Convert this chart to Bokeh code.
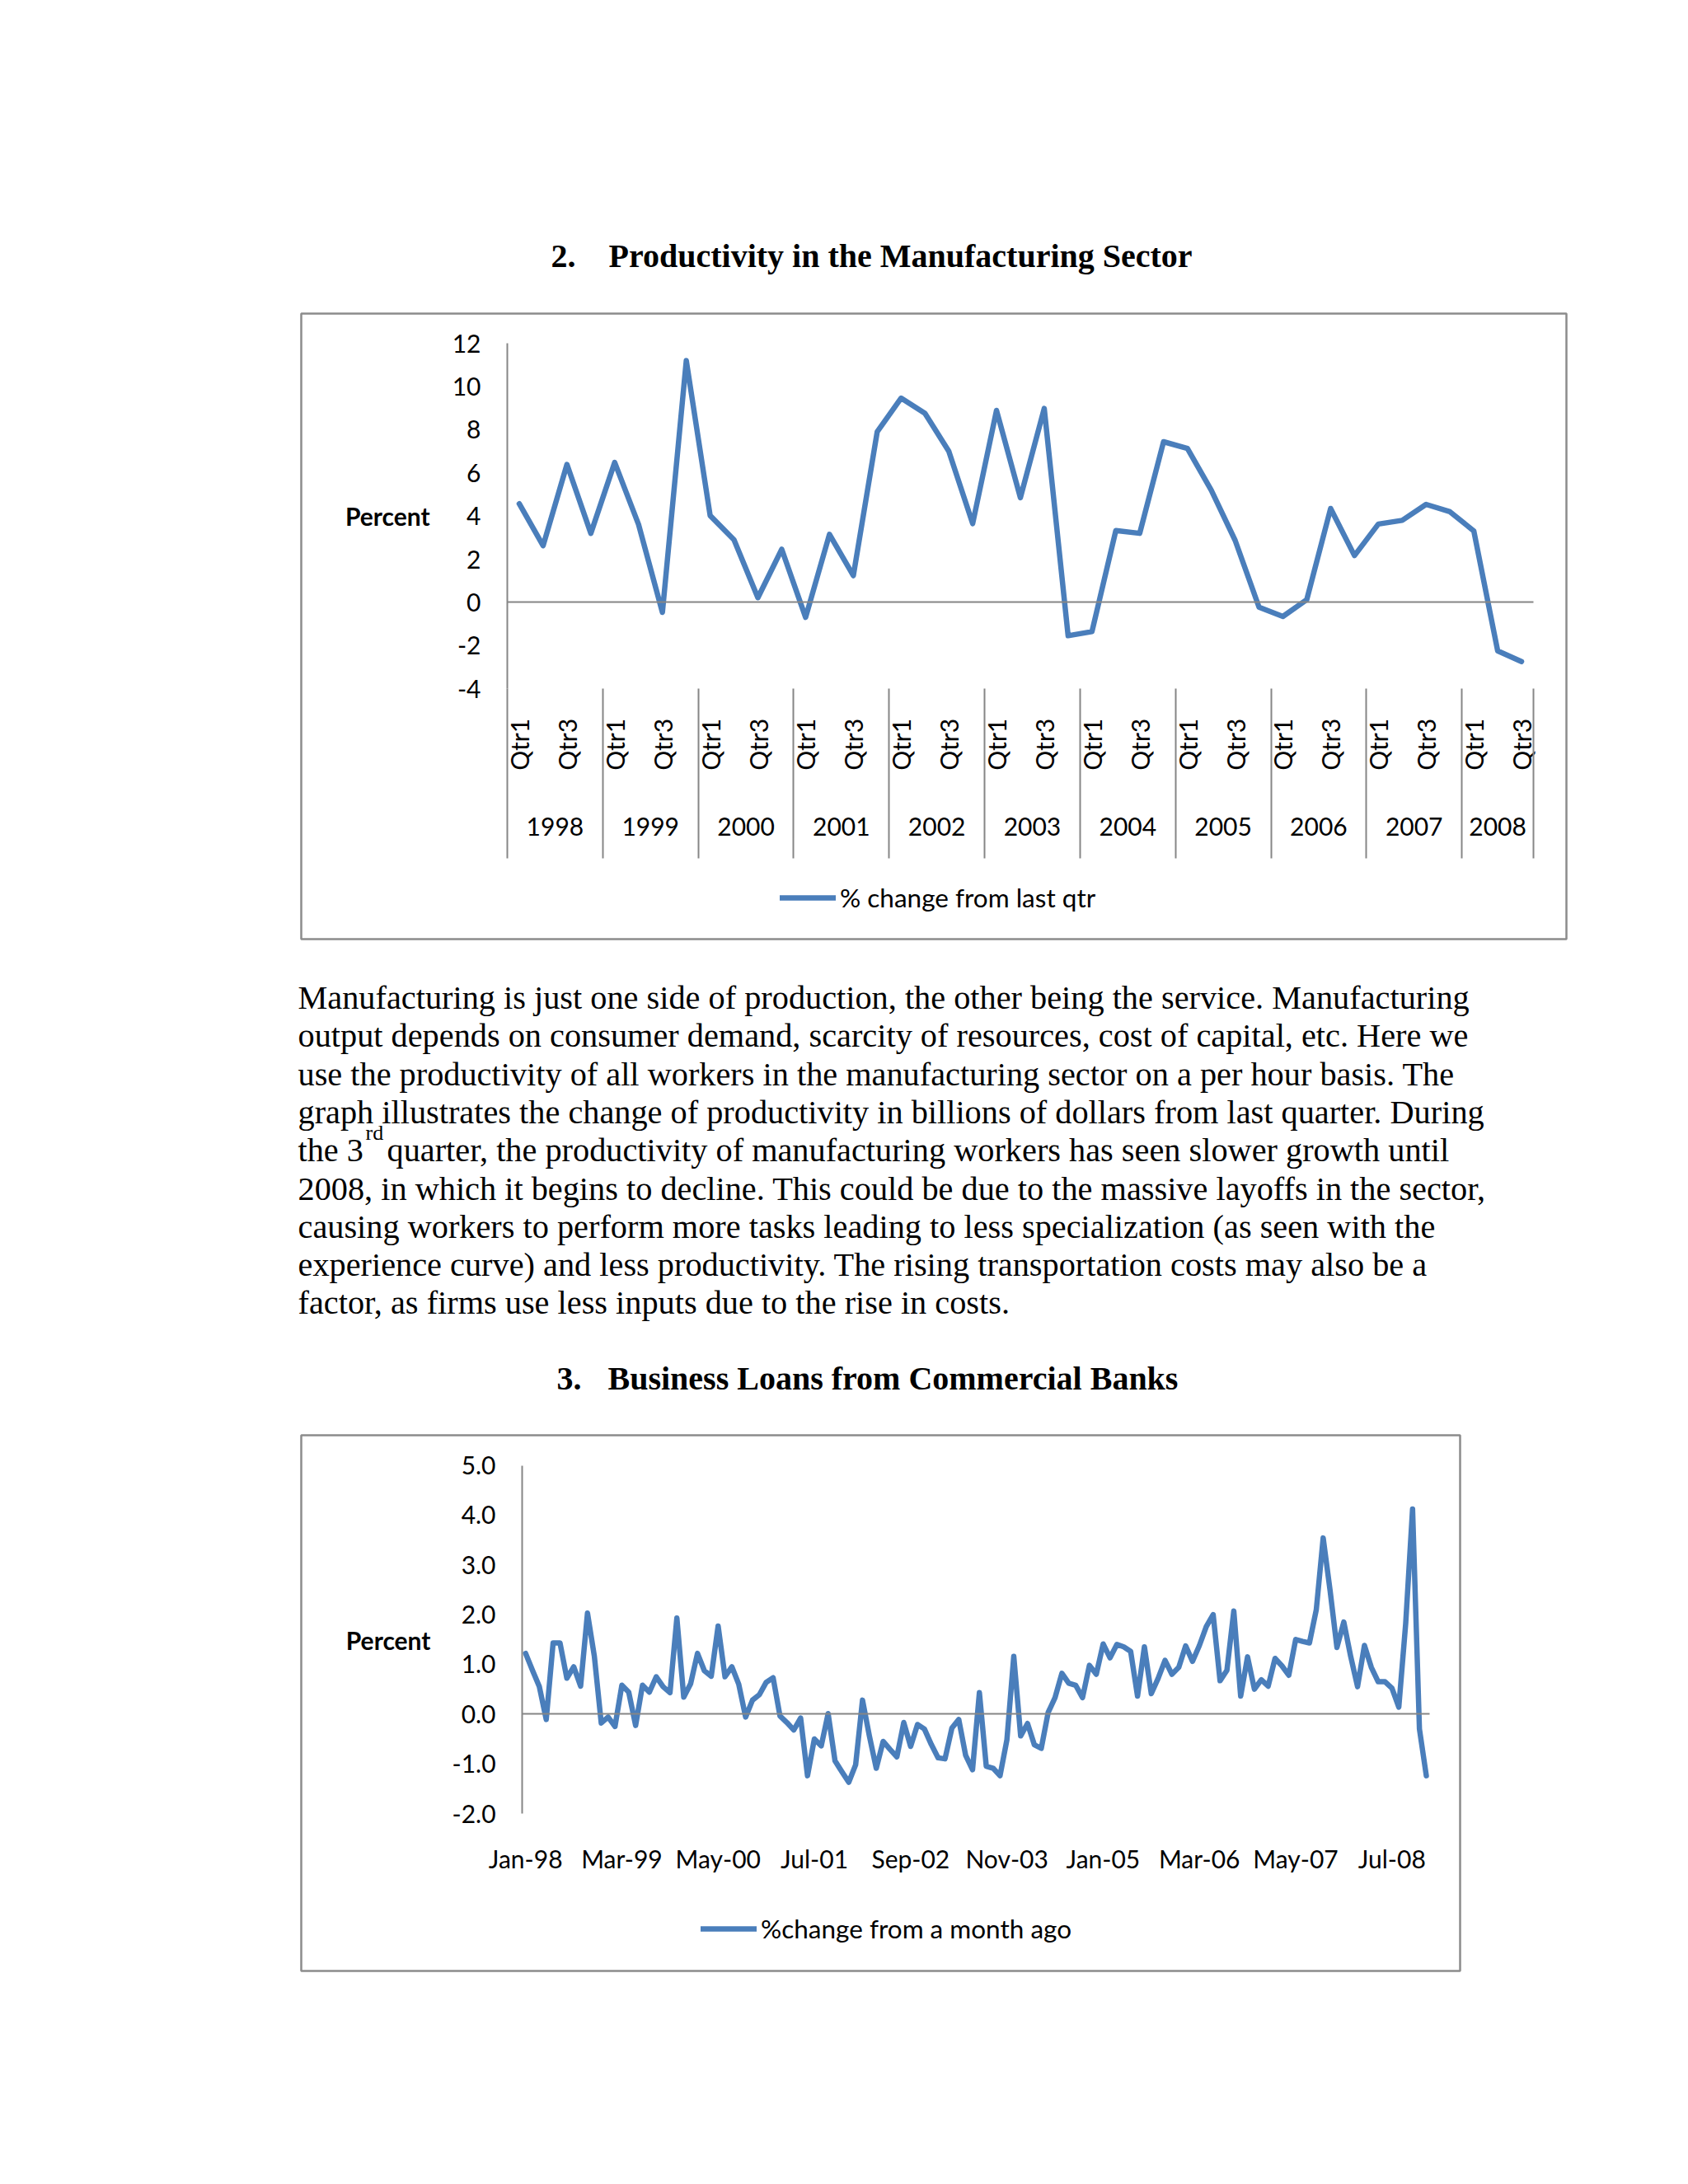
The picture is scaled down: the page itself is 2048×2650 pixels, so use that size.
import math
from bokeh.plotting import figure
from bokeh.models import (Range1d, LinearAxis, FixedTicker, PrintfTickFormatter,
                          Legend, LegendItem, ColumnDataSource)
from bokeh.layouts import column
from bokeh.core.properties import value
from bokeh.embed import file_html
from bokeh.resources import INLINE

# ---------------- data ----------------
prod_years = ["1998", "1999", "2000", "2001", "2002", "2003", "2004", "2005", "2006", "2007", "2008"]
prod_quarters = ["Qtr1", "Qtr2", "Qtr3", "Qtr4"]
productivity = [4.57, 2.63, 6.39, 3.2,
                6.48, 3.61, -0.46, 11.2,
                4.02, 2.9, 0.22, 2.46,
                -0.69, 3.15, 1.24, 7.9,
                9.46, 8.76, 7.0, 3.65,
                8.89, 4.85, 8.98, -1.54,
                -1.35, 3.33, 3.2, 7.44,
                7.13, 5.19, 2.87, -0.22,
                -0.65, 0.13, 4.35, 2.17,
                3.63, 3.8, 4.54, 4.2,
                3.31, -2.24, -2.74]
prod_yticks = [-4, -2, 0, 2, 4, 6, 8, 10, 12]
prod_label_quarters = ["Qtr1", "Qtr3"]
prod_legend = "% change from last qtr"

loan_months = ["Jan", "Feb", "Mar", "Apr", "May", "Jun", "Jul", "Aug", "Sep", "Oct", "Nov", "Dec"]
loan_years = ["98", "99", "00", "01", "02", "03", "04", "05", "06", "07", "08"]
loans = [1.22, 0.88, 0.55, -0.11, 1.43, 1.43, 0.72, 0.95, 0.56, 2.03,
         1.16, -0.18, -0.06, -0.25, 0.58, 0.44, -0.23, 0.58, 0.44, 0.75,
         0.55, 0.43, 1.93, 0.34, 0.61, 1.22, 0.87, 0.76, 1.77, 0.75,
         0.95, 0.6, -0.06, 0.28, 0.39, 0.64, 0.73, -0.04, -0.17, -0.32,
         -0.08, -1.24, -0.5, -0.64, 0.01, -0.94, -1.16, -1.37, -1.02, 0.28,
         -0.44, -1.09, -0.55, -0.71, -0.86, -0.17, -0.65, -0.21, -0.3, -0.61,
         -0.88, -0.9, -0.28, -0.11, -0.83, -1.12, 0.43, -1.05, -1.09, -1.24,
         -0.52, 1.16, -0.44, -0.19, -0.62, -0.69, 0.03, 0.33, 0.82, 0.62,
         0.58, 0.33, 0.98, 0.8, 1.41, 1.13, 1.4, 1.35, 1.26, 0.36,
         1.35, 0.41, 0.72, 1.08, 0.8, 0.94, 1.37, 1.06, 1.38, 1.76,
         2.0, 0.67, 0.88, 2.07, 0.36, 1.15, 0.5, 0.69, 0.56, 1.12,
         0.97, 0.78, 1.5, 1.46, 1.43, 2.1, 3.54, 2.49, 1.34, 1.85,
         1.16, 0.55, 1.38, 0.94, 0.65, 0.65, 0.52, 0.14, 1.82, 4.12,
         -0.3, -1.24]
loan_yticks = [-2, -1, 0, 1, 2, 3, 4, 5]
loan_label_step = 14
loan_legend = "%change from a month ago"

title1_num, title1_text = "2.", "Productivity in the Manufacturing Sector"
title2_num, title2_text = "3.", "Business Loans from Commercial Banks"
paragraph = [
    "Manufacturing is just one side of production, the other being the service. Manufacturing",
    "output depends on consumer demand, scarcity of resources, cost of capital, etc. Here we",
    "use the productivity of all workers in the manufacturing sector on a per hour basis. The",
    "graph illustrates the change of productivity in billions of dollars from last quarter. During",
    None,
    "2008, in which it begins to decline. This could be due to the massive layoffs in the sector,",
    "causing workers to perform more tasks leading to less specialization (as seen with the",
    "experience curve) and less productivity. The rising transportation costs may also be a",
    "factor, as firms use less inputs due to the rise in costs.",
]
line5_parts = ["the 3", "rd", "quarter, the productivity of manufacturing workers has seen slower growth until"]

# ---------------- styling / layout ----------------
ORG = 1            # screen pixel where the layout starts
PAGE_W = 2032
BLUE = "#4A7EBB"
GRAY = "#868686"
BOX = "#8C8C8C"
CFONT = "Lato"
CSIZE = "30px"
LSIZE = "31.5px"
SERIF = "Liberation Serif"
BODY = "40.3px"
HEAD = "40px"


def no_align(p):
    try:
        p.frame_align = False
    except Exception:
        pass


def text_fig(top, bottom):
    p = figure(width=PAGE_W, height=bottom - top, x_range=Range1d(ORG, ORG + PAGE_W),
               y_range=Range1d(bottom, top), output_backend="svg", toolbar_location=None,
               min_border=0, x_axis_type=None, y_axis_type=None)
    p.outline_line_color = None
    p.background_fill_color = "white"
    p.border_fill_color = "white"
    no_align(p)
    return p


def chart_fig(top, bottom, box_l, box_r, xr, yr):
    p = figure(width=PAGE_W, height=bottom - top, x_range=xr, y_range=yr,
               output_backend="svg", toolbar_location=None,
               min_border_left=box_l - ORG, min_border_right=ORG + PAGE_W - box_r,
               min_border_top=2, min_border_bottom=2,
               x_axis_type=None, y_axis_type=None)
    p.outline_line_color = BOX
    p.outline_line_width = 2.5
    p.background_fill_color = "white"
    p.border_fill_color = "white"
    no_align(p)
    return p


def style_axis(ax):
    ax.major_label_text_font = CFONT
    ax.major_label_text_font_size = CSIZE
    ax.major_label_text_color = "black"
    ax.minor_tick_line_color = None


# ---------- top: title 1 ----------
f1 = text_fig(ORG, 379)
f1.text(x=[669, 739], y=[311, 311], text=[title1_num, title1_text],
        text_font=value(SERIF), text_font_style="bold", text_font_size=value(HEAD),
        text_baseline="alphabetic", text_align="left", text_color="black")

# ---------- chart 1 ----------
n1 = len(productivity)
ax1_l, ax1_r = 616.0, 1861.0          # pixel edges of category axis
y1_top, y1_bot = 417.0, 836.3          # pixels of 12 and -4
q_w = (ax1_r - ax1_l) / n1
pxu1 = (y1_bot - y1_top) / (prod_yticks[-1] - prod_yticks[0])
zero1 = y1_top + prod_yticks[-1] * pxu1
box1 = (366, 1901, 381, 1140)
xr1 = Range1d((box1[0] - ax1_l) / q_w - 0.5, (box1[1] - ax1_l) / q_w - 0.5)
yr1 = Range1d((zero1 - box1[3]) / pxu1, (zero1 - box1[2]) / pxu1)
f2 = chart_fig(379, 1142, box1[0], box1[1], xr1, yr1)

xs1 = list(range(n1))
src1 = ColumnDataSource(dict(x=xs1, y=productivity,
                             year=[prod_years[i // 4] for i in xs1],
                             quarter=[prod_quarters[i % 4] for i in xs1]))
r1 = f2.line(x="x", y="y", source=src1, line_color=BLUE, line_width=6.5,
             line_join="round", line_cap="round")

ymin1, ymax1 = prod_yticks[0], prod_yticks[-1]
yax1 = LinearAxis(fixed_location=-0.5, bounds=(ymin1, ymax1),
                  ticker=FixedTicker(ticks=prod_yticks), formatter=PrintfTickFormatter(format="%d"),
                  axis_line_color=GRAY, axis_line_width=2, major_tick_out=0, major_tick_in=0,
                  major_label_standoff=32, axis_label="Percent", axis_label_orientation="horizontal",
                  axis_label_standoff=24, axis_label_text_font=CFONT, axis_label_text_font_size=CSIZE,
                  axis_label_text_font_style="bold", axis_label_text_color="black")
style_axis(yax1)
f2.add_layout(yax1, "left")

zax1 = LinearAxis(fixed_location=0, bounds=(-0.5, n1 - 0.5), ticker=FixedTicker(ticks=[]),
                  axis_line_color=GRAY, axis_line_width=2, major_tick_line_color=None)
style_axis(zax1)
f2.add_layout(zax1, "below")

q_ticks = [i for i in xs1 if prod_quarters[i % 4] in prod_label_quarters]
qax1 = LinearAxis(fixed_location=ymin1, ticker=FixedTicker(ticks=q_ticks),
                  major_label_overrides={i: prod_quarters[i % 4] for i in q_ticks},
                  axis_line_color=None, major_tick_line_color=None,
                  major_label_orientation=math.pi / 2, major_label_standoff=30)
style_axis(qax1)
f2.add_layout(qax1, "below")

year_centers = {}
for i in xs1:
    year_centers.setdefault(prod_years[i // 4], []).append(i)
yc_ticks = [sum(v) / len(v) for v in year_centers.values()]
yax_years = LinearAxis(fixed_location=ymin1, ticker=FixedTicker(ticks=yc_ticks),
                       major_label_overrides={t: y for t, y in zip(yc_ticks, year_centers.keys())},
                       axis_line_color=None, major_tick_line_color=None,
                       major_label_standoff=150)
style_axis(yax_years)
f2.add_layout(yax_years, "below")

bounds1 = [v[0] - 0.5 for v in year_centers.values()] + [n1 - 0.5]
sep1 = LinearAxis(fixed_location=ymin1, ticker=FixedTicker(ticks=bounds1),
                  major_label_overrides={b: "" for b in bounds1},
                  axis_line_color=None, major_tick_line_color=GRAY, major_tick_line_width=2,
                  major_tick_in=0, major_tick_out=206)
style_axis(sep1)
f2.add_layout(sep1, "below")

leg1 = Legend(items=[LegendItem(label=prod_legend, renderers=[r1])], location=(581, 30),
              orientation="horizontal", padding=0, margin=0, spacing=0,
              border_line_color=None, background_fill_alpha=0,
              glyph_width=68, glyph_height=40, label_height=40, label_standoff=5,
              label_text_font=CFONT, label_text_font_size=LSIZE, label_text_color="black")
f2.add_layout(leg1)

# ---------- paragraph + title 2 ----------
f3 = text_fig(1142, 1740)
base0, lead = 1211.0, 46.3
px, py, pt = [], [], []
for i, line in enumerate(paragraph):
    if line is not None:
        px.append(362); py.append(base0 + i * lead); pt.append(line)
f3.text(x=px, y=py, text=pt, text_font=value(SERIF), text_font_size=value(BODY),
        text_baseline="alphabetic", text_align="left", text_color="black")
b5 = base0 + 4 * lead
f3.text(x=[362, 470], y=[b5, b5], text=[line5_parts[0], line5_parts[2]], text_font=value(SERIF),
        text_font_size=value(BODY), text_baseline="alphabetic", text_align="left", text_color="black")
f3.text(x=[444], y=[b5 - 21], text=[line5_parts[1]], text_font=value(SERIF),
        text_font_size=value("26px"), text_baseline="alphabetic", text_align="left", text_color="black")
f3.text(x=[676, 738], y=[1673, 1673], text=[title2_num, title2_text],
        text_font=value(SERIF), text_font_style="bold", text_font_size=value(HEAD),
        text_baseline="alphabetic", text_align="left", text_color="black")

# ---------- chart 2 ----------
month_labels = [f"{m}-{y}" for y in loan_years for m in loan_months]
n2 = len(loans)
k0_px, m_w = 638.2, 8.342             # pixel of first month, pixel per month
y2_top, y2_bot = 1778.5, 2201.0        # pixels of 5 and -2
pxu2 = (y2_bot - y2_top) / (loan_yticks[-1] - loan_yticks[0])
zero2 = y2_top + loan_yticks[-1] * pxu2
box2 = (366, 1772, 1742, 2392)
xr2 = Range1d((box2[0] - k0_px) / m_w, (box2[1] - k0_px) / m_w)
yr2 = Range1d((zero2 - box2[3]) / pxu2, (zero2 - box2[2]) / pxu2)
f4 = chart_fig(1740, 2394, box2[0], box2[1], xr2, yr2)

xs2 = list(range(n2))
src2 = ColumnDataSource(dict(x=xs2, y=loans, month=month_labels[:n2]))
r2 = f4.line(x="x", y="y", source=src2, line_color=BLUE, line_width=6.5,
             line_join="round", line_cap="round")

ymin2, ymax2 = loan_yticks[0], loan_yticks[-1]
yax2 = LinearAxis(fixed_location=-0.5, bounds=(ymin2, ymax2),
                  ticker=FixedTicker(ticks=loan_yticks), formatter=PrintfTickFormatter(format="%.1f"),
                  axis_line_color=GRAY, axis_line_width=2, major_tick_out=0, major_tick_in=0,
                  major_label_standoff=32, axis_label="Percent", axis_label_orientation="horizontal",
                  axis_label_standoff=23, axis_label_text_font=CFONT, axis_label_text_font_size=CSIZE,
                  axis_label_text_font_style="bold", axis_label_text_color="black")
style_axis(yax2)
f4.add_layout(yax2, "left")

zax2 = LinearAxis(fixed_location=0, bounds=(-0.5, n2 - 0.5), ticker=FixedTicker(ticks=[]),
                  axis_line_color=GRAY, axis_line_width=2, major_tick_line_color=None)
style_axis(zax2)
f4.add_layout(zax2, "below")

m_ticks = [k for k in xs2 if k % loan_label_step == 0]
max2 = LinearAxis(fixed_location=ymin2, ticker=FixedTicker(ticks=m_ticks),
                  major_label_overrides={k: month_labels[k] for k in m_ticks},
                  axis_line_color=None, major_tick_line_color=None, major_label_standoff=30)
style_axis(max2)
f4.add_layout(max2, "below")

leg2 = Legend(items=[LegendItem(label=loan_legend, renderers=[r2])], location=(485, 31),
              orientation="horizontal", padding=0, margin=0, spacing=0,
              border_line_color=None, background_fill_alpha=0,
              glyph_width=68, glyph_height=40, label_height=40, label_standoff=5,
              label_text_font=CFONT, label_text_font_size=LSIZE, label_text_color="black")
f4.add_layout(leg2)

page = column(f1, f2, f3, f4, spacing=0)
open("out.html", "w").write(file_html(page, INLINE))
